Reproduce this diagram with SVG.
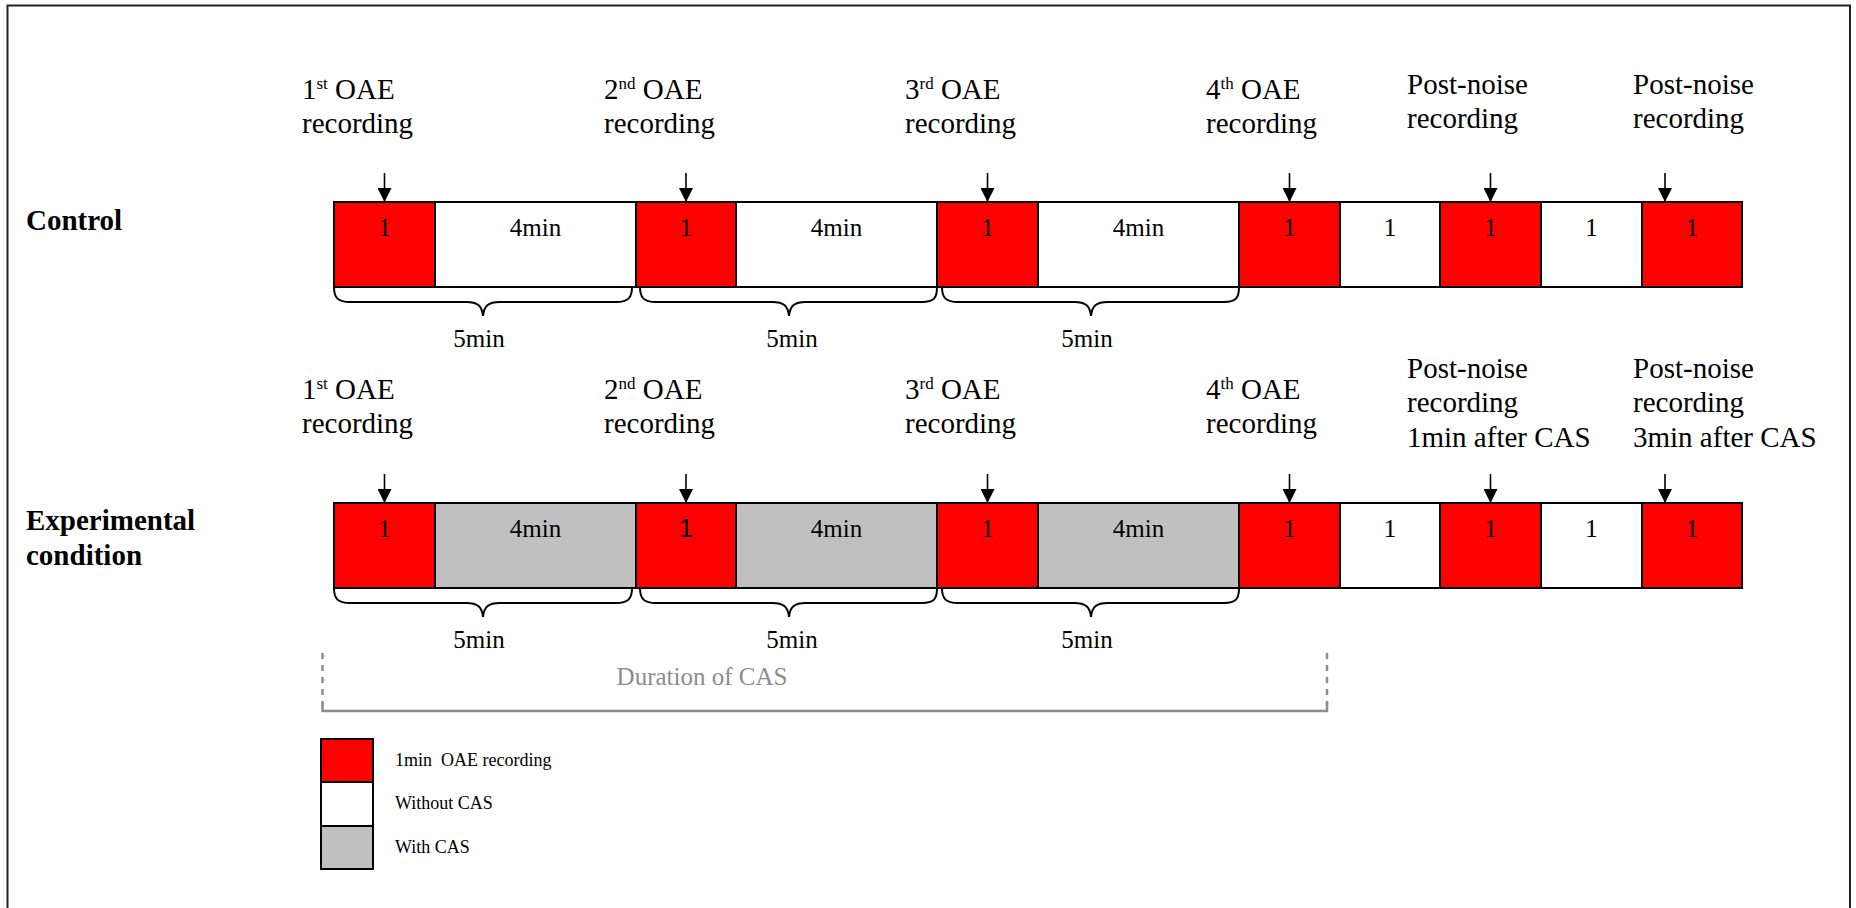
<svg xmlns="http://www.w3.org/2000/svg" width="1856" height="908" viewBox="0 0 1856 908">
<defs>
<style>
.t{font-family:"Liberation Serif","Times New Roman",serif;fill:#000}
.lbl{font-size:29px}
.b{font-weight:bold}
.sm{font-size:25px;text-anchor:middle}
.lg{font-size:18px;white-space:pre}
.red{fill:#ff0000;stroke:#000;stroke-width:2}
.wht{fill:#fff;stroke:#000;stroke-width:2}
.gry{fill:#c0c0c0;stroke:#000;stroke-width:2}
.arr{stroke:#000;stroke-width:1.6;fill:none}
.brace{stroke:#000;stroke-width:2;fill:none}
.dash{stroke:#8c8c8c;stroke-width:2.5;fill:none;stroke-dasharray:6 6}
.sol{stroke:#8c8c8c;stroke-width:2.5;fill:none}
</style>
<marker id="ah" markerWidth="14" markerHeight="14" refX="14" refY="7" orient="auto" markerUnits="userSpaceOnUse">
<path d="M0,0 L14,7 L0,14 Z" fill="#000"/>
</marker>
</defs>
<rect x="0" y="0" width="1856" height="908" fill="#fff"/>
<path d="M7.5,920 L7.5,5.5 L1850,5.5 L1850,920" fill="none" stroke="#222" stroke-width="2"/>

<g id="row-labels">
<text class="t lbl b" x="26" y="230">Control</text>
<text class="t lbl b" x="26" y="530">Experimental</text>
<text class="t lbl b" x="26" y="565">condition</text>
</g>

<g id="control-labels" class="t lbl">
<text x="302" y="99">1<tspan font-size="17" dy="-10">st</tspan><tspan dy="10"> OAE</tspan></text>
<text x="302" y="133">recording</text>
<text x="604" y="99">2<tspan font-size="17" dy="-10">nd</tspan><tspan dy="10"> OAE</tspan></text>
<text x="604" y="133">recording</text>
<text x="905" y="99">3<tspan font-size="17" dy="-10">rd</tspan><tspan dy="10"> OAE</tspan></text>
<text x="905" y="133">recording</text>
<text x="1206" y="99">4<tspan font-size="17" dy="-10">th</tspan><tspan dy="10"> OAE</tspan></text>
<text x="1206" y="133">recording</text>
<text x="1407" y="94">Post-noise</text>
<text x="1407" y="128">recording</text>
<text x="1633" y="94">Post-noise</text>
<text x="1633" y="128">recording</text>
</g>

<g id="experimental-labels" class="t lbl">
<text x="302" y="399">1<tspan font-size="17" dy="-10">st</tspan><tspan dy="10"> OAE</tspan></text>
<text x="302" y="433">recording</text>
<text x="604" y="399">2<tspan font-size="17" dy="-10">nd</tspan><tspan dy="10"> OAE</tspan></text>
<text x="604" y="433">recording</text>
<text x="905" y="399">3<tspan font-size="17" dy="-10">rd</tspan><tspan dy="10"> OAE</tspan></text>
<text x="905" y="433">recording</text>
<text x="1206" y="399">4<tspan font-size="17" dy="-10">th</tspan><tspan dy="10"> OAE</tspan></text>
<text x="1206" y="433">recording</text>
<text x="1407" y="378">Post-noise</text>
<text x="1407" y="412">recording</text>
<text x="1407" y="447">1min after CAS</text>
<text x="1633" y="378">Post-noise</text>
<text x="1633" y="412">recording</text>
<text x="1633" y="447">3min after CAS</text>
</g>

<g id="control-row">
<rect class="red" x="334" y="202" width="101" height="85"/>
<rect class="wht" x="435" y="202" width="201" height="85"/>
<rect class="red" x="636" y="202" width="100" height="85"/>
<rect class="wht" x="736" y="202" width="201" height="85"/>
<rect class="red" x="937" y="202" width="101" height="85"/>
<rect class="wht" x="1038" y="202" width="201" height="85"/>
<rect class="red" x="1239" y="202" width="101" height="85"/>
<rect class="wht" x="1340" y="202" width="100" height="85"/>
<rect class="red" x="1440" y="202" width="101" height="85"/>
<rect class="wht" x="1541" y="202" width="101" height="85"/>
<rect class="red" x="1642" y="202" width="100" height="85"/>
<g class="t sm">
<text x="384.5" y="236">1</text>
<text x="535.5" y="236">4min</text>
<text x="686" y="236">1</text>
<text x="836.5" y="236">4min</text>
<text x="987.5" y="236">1</text>
<text x="1138.5" y="236">4min</text>
<text x="1289.5" y="236">1</text>
<text x="1390" y="236">1</text>
<text x="1490.5" y="236">1</text>
<text x="1591.5" y="236">1</text>
<text x="1692" y="236">1</text>
</g>
</g>

<g id="experimental-row">
<rect class="red" x="334" y="503" width="101" height="85"/>
<rect class="gry" x="435" y="503" width="201" height="85"/>
<rect class="red" x="636" y="503" width="100" height="85"/>
<rect class="gry" x="736" y="503" width="201" height="85"/>
<rect class="red" x="937" y="503" width="101" height="85"/>
<rect class="gry" x="1038" y="503" width="201" height="85"/>
<rect class="red" x="1239" y="503" width="101" height="85"/>
<rect class="wht" x="1340" y="503" width="100" height="85"/>
<rect class="red" x="1440" y="503" width="101" height="85"/>
<rect class="wht" x="1541" y="503" width="101" height="85"/>
<rect class="red" x="1642" y="503" width="100" height="85"/>
<g class="t sm">
<text x="384.5" y="537">1</text>
<text x="535.5" y="537">4min</text>
<text x="686" y="537" font-family="Liberation Sans, Arial, sans-serif">1</text>
<text x="836.5" y="537">4min</text>
<text x="987.5" y="537">1</text>
<text x="1138.5" y="537">4min</text>
<text x="1289.5" y="537">1</text>
<text x="1390" y="537">1</text>
<text x="1490.5" y="537">1</text>
<text x="1591.5" y="537">1</text>
<text x="1692" y="537">1</text>
</g>
</g>

<g id="connectors">
<g class="arr" marker-end="url(#ah)">
<path d="M384.5,173 V202"/>
<path d="M686,173 V202"/>
<path d="M987.5,173 V202"/>
<path d="M1289.5,173 V202"/>
<path d="M1490.5,173 V202"/>
<path d="M1665,173 V202"/>
<path d="M384.5,474 V503"/>
<path d="M686,474 V503"/>
<path d="M987.5,474 V503"/>
<path d="M1289.5,474 V503"/>
<path d="M1490.5,474 V503"/>
<path d="M1665,474 V503"/>
</g>
<g class="brace">
<path d="M334,287 C334,298 338,302 350,302 L466,302 C478,302 482,306 483,316 C484,306 488,302 500,302 L616,302 C628,302 632,298 632,287"/>
<path d="M640,287 C640,298 644,302 656,302 L772,302 C784,302 788,306 789,316 C790,306 794,302 806,302 L922,302 C934,302 937,298 937,287"/>
<path d="M942,287 C942,298 946,302 958,302 L1074,302 C1086,302 1090,306 1091,316 C1092,306 1096,302 1108,302 L1224,302 C1236,302 1239,298 1239,287"/>
<path d="M334,588 C334,599 338,603 350,603 L466,603 C478,603 482,607 483,617 C484,607 488,603 500,603 L616,603 C628,603 632,599 632,588"/>
<path d="M640,588 C640,599 644,603 656,603 L772,603 C784,603 788,607 789,617 C790,607 794,603 806,603 L922,603 C934,603 937,599 937,588"/>
<path d="M942,588 C942,599 946,603 958,603 L1074,603 C1086,603 1090,607 1091,617 C1092,607 1096,603 1108,603 L1224,603 C1236,603 1239,599 1239,588"/>
</g>
<path class="dash" d="M322.5,653 V705"/>
<path class="dash" d="M1327,653 V705"/>
<path class="sol" d="M322.5,703 V711 H1327 V703"/>
</g>

<g id="durations" class="t sm">
<text x="479" y="347">5min</text>
<text x="792" y="347">5min</text>
<text x="1087" y="347">5min</text>
<text x="479" y="648">5min</text>
<text x="792" y="648">5min</text>
<text x="1087" y="648">5min</text>
<text x="702" y="685" fill="#8c8c8c">Duration of CAS</text>
</g>

<g id="legend">
<rect class="red" x="321" y="739" width="52" height="43"/>
<rect class="wht" x="321" y="782" width="52" height="44"/>
<rect class="gry" x="321" y="826" width="52" height="43"/>
<text class="t lg" x="395" y="766">1min  OAE recording</text>
<text class="t lg" x="395" y="809">Without CAS</text>
<text class="t lg" x="395" y="853">With CAS</text>
</g>
</svg>
